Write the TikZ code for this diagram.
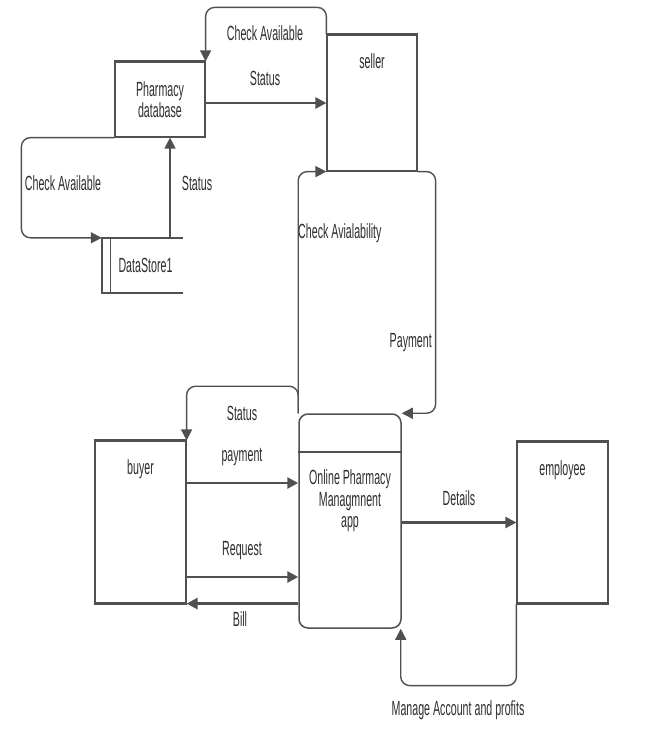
\documentclass[tikz,border=0pt]{standalone}
\usepackage{fontspec}
\setmainfont{Liberation Sans}[FakeStretch=0.52]
\usetikzlibrary{arrows.meta,positioning,calc}
\definecolor{dfdline}{HTML}{505050}
\definecolor{dfdtext}{HTML}{2E2E2E}

\begin{document}
\begin{tikzpicture}[
        x=1pt, y=-1pt,
        font=\fontsize{20.5}{21.5}\selectfont,
        >={Triangle[length=11pt, width=11pt]},
        ent/.style={draw=dfdline, line width=1.2pt, fill=white, inner sep=0pt,
                   text=dfdtext, align=center},
        proc/.style={draw=dfdline, line width=1.5pt, fill=white,
                   rounded corners=9pt, inner sep=0pt},
        topline/.style={dfdline, line width=2.2pt},
        flow/.style={->, dfdline, line width=2.6pt},
        back/.style={->, dfdline, line width=1.4pt, rounded corners=9pt},
        lbl/.style={text=dfdtext, inner sep=0pt, align=center},
    ]
        \useasboundingbox[fill=white] (0,0) rectangle (654,756);
        % External entities and the pharmacy store.
        \node[ent, minimum width=90pt, minimum height=75pt] (pharm) at (160,99.5)
            {Pharmacy\\database};
        \node[ent, minimum width=90pt, minimum height=136pt] (seller) at (372,103) {};
        \node[ent, minimum width=91pt, minimum height=162pt] (buyer) at (140.5,522) {};
        \node[ent, minimum width=91pt, minimum height=161pt] (employee) at (562.5,522.5) {};
        \node[lbl, anchor=north] (sellername) at ([yshift=-19pt]seller.north) {seller};
        \node[lbl, anchor=north] (buyername) at ([yshift=-19pt]buyer.north) {buyer};
        \node[lbl, anchor=north] (employeename) at ([yshift=-19pt]employee.north) {employee};
        \foreach \n in {pharm, seller, buyer, employee}{
            \draw[topline] (\n.north west) -- (\n.north east);}
        \foreach \n in {buyer, employee}{
            \draw[topline] (\n.south west) -- (\n.south east);}
        % Data store, open on the right.
        \node[lbl, minimum width=81pt, minimum height=55pt] (store) at (142.5,265.5)
            {\hspace{6pt}DataStore1};
        \draw[dfdline, line width=1.8pt] (store.north east) -- (store.north west)
            -- (store.south west) -- (store.south east);
        \draw[dfdline, line width=1.2pt] ([xshift=9pt]store.north west)
            -- ([xshift=9pt]store.south west);
        % Process.
        \node[proc, minimum width=102pt, minimum height=214pt] (app) at (350,521) {};
        \draw[dfdline, line width=2pt] ([yshift=-39pt]app.north west)
            -- ([yshift=-39pt]app.north east);
        \node[lbl] (apptxt) at (350,501) {Online Pharmacy\\Managmnent\\app};
        % Pharmacy database, seller and data store.
        \draw[back] (seller.north west) -- ++(0,-27) -| (pharm.north east);
        \node[lbl] (lcheck1) at (265,33) {Check Available};
        \draw[flow] ([yshift=-3.5pt]pharm.east) -- ([yshift=-3.5pt]pharm.east -| seller.west);
        \node[lbl] (lstatus1) at (265,78) {Status};
        \draw[back] (pharm.south west) -- ++(-93,0) |- (store.north west);
        \node[lbl] (lcheck2) at (63,183) {Check Available};
        \draw[back] ([xshift=10pt]pharm.south |- store.north) -- ([xshift=10pt]pharm.south);
        \node[lbl] (lstatus2) at (197,183) {Status};
        % App and seller.
        \draw[back] (app.north west) |- (seller.south west);
        \node[lbl, anchor=west] (lavail) at (298,233) {Check Avialability};
        \draw[back] (seller.south east) -- ++(18,0) |- (app.north east);
        \node[lbl, anchor=east] (lpay1) at (432,343) {Payment};
        % App and buyer.
        \draw[back] (app.north west) -- ++(0,-27) -| (buyer.north east);
        \node[lbl] (lstatus3) at (242,413) {Status};
        \draw[flow] ([yshift=39pt]buyer.east) -- ([yshift=39pt]buyer.east -| app.west);
        \node[lbl] (lpay2) at (242,457) {payment};
        \draw[flow] ([yshift=-55pt]buyer.east) -- ([yshift=-55pt]buyer.east -| app.west);
        \node[lbl] (lreq) at (242,551) {Request};
        \draw[flow] (buyer.south east -| app.west) -- (buyer.south east);
        \node[lbl] (lbill) at (240,619) {Bill};
        % App and employee.
        \draw[flow] (employee.west -| app.east) -- (employee.west);
        \node[lbl] (ldetails) at (459,498) {Details};
        \draw[back] (employee.south west) -- ++(0,82) -| ([xshift=-1pt]app.south east);
        \node[lbl] (lmanage) at (458,710) {Manage Account and profits};
    \end{tikzpicture}
\end{document}
